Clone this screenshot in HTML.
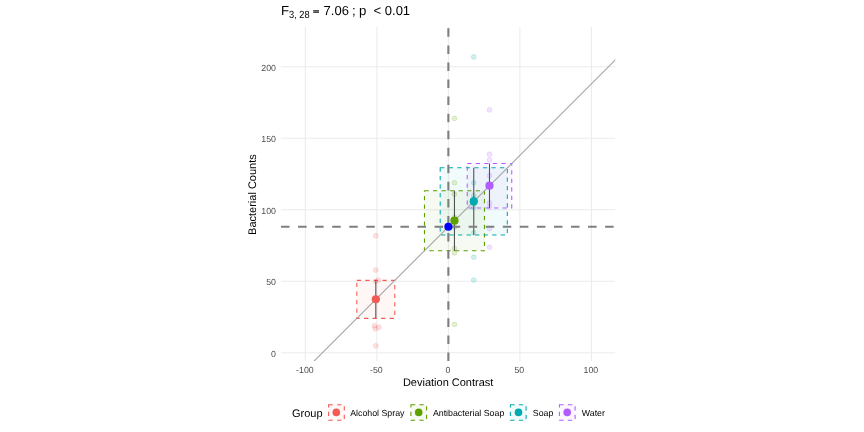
<!DOCTYPE html><html><head><meta charset="utf-8"><style>html,body{margin:0;padding:0;background:#fff;}svg{display:block;will-change:transform;}text{font-family:"Liberation Sans",sans-serif;text-rendering:geometricPrecision;}</style></head><body>
<svg width="864" height="432" viewBox="0 0 864 432">
<rect x="0" y="0" width="864" height="432" fill="#fff"/>
<defs><clipPath id="pc"><rect x="281.00" y="27.00" width="334.30" height="334.00"/></clipPath></defs>
<g stroke="#EBEBEB" stroke-width="1.07"><line x1="305.38" y1="27.00" x2="305.38" y2="361.00"/><line x1="376.88" y1="27.00" x2="376.88" y2="361.00"/><line x1="448.38" y1="27.00" x2="448.38" y2="361.00"/><line x1="519.88" y1="27.00" x2="519.88" y2="361.00"/><line x1="591.38" y1="27.00" x2="591.38" y2="361.00"/><line x1="281.00" y1="352.74" x2="615.30" y2="352.74"/><line x1="281.00" y1="281.24" x2="615.30" y2="281.24"/><line x1="281.00" y1="209.74" x2="615.30" y2="209.74"/><line x1="281.00" y1="138.24" x2="615.30" y2="138.24"/><line x1="281.00" y1="66.74" x2="615.30" y2="66.74"/></g>
<g clip-path="url(#pc)">
<rect x="356.82" y="280.37" width="37.98" height="37.98" fill="#F15A55" fill-opacity="0.05" stroke="#F15A55" stroke-width="1.07" stroke-dasharray="4.27 4.27"/>
<rect x="424.45" y="190.71" width="60.01" height="60.01" fill="#5EA000" fill-opacity="0.05" stroke="#5EA000" stroke-width="1.07" stroke-dasharray="4.27 4.27"/>
<rect x="440.19" y="167.83" width="67.15" height="67.15" fill="#00AAB0" fill-opacity="0.05" stroke="#00AAB0" stroke-width="1.07" stroke-dasharray="4.27 4.27"/>
<rect x="467.23" y="163.42" width="44.52" height="44.52" fill="#B05CFF" fill-opacity="0.05" stroke="#B05CFF" stroke-width="1.07" stroke-dasharray="4.27 4.27"/>
<circle cx="378.41" cy="280.06" r="2.4" fill="#F15A55" fill-opacity="0.17" stroke="#F15A55" stroke-opacity="0.2" stroke-width="0.9"/>
<circle cx="375.81" cy="345.84" r="2.4" fill="#F15A55" fill-opacity="0.17" stroke="#F15A55" stroke-opacity="0.2" stroke-width="0.9"/>
<circle cx="374.41" cy="325.82" r="2.4" fill="#F15A55" fill-opacity="0.17" stroke="#F15A55" stroke-opacity="0.2" stroke-width="0.9"/>
<circle cx="378.81" cy="327.25" r="2.4" fill="#F15A55" fill-opacity="0.17" stroke="#F15A55" stroke-opacity="0.2" stroke-width="0.9"/>
<circle cx="375.81" cy="270.05" r="2.4" fill="#F15A55" fill-opacity="0.17" stroke="#F15A55" stroke-opacity="0.2" stroke-width="0.9"/>
<circle cx="375.61" cy="281.49" r="2.4" fill="#F15A55" fill-opacity="0.17" stroke="#F15A55" stroke-opacity="0.2" stroke-width="0.9"/>
<circle cx="375.81" cy="235.73" r="2.4" fill="#F15A55" fill-opacity="0.17" stroke="#F15A55" stroke-opacity="0.2" stroke-width="0.9"/>
<circle cx="375.31" cy="328.68" r="2.4" fill="#F15A55" fill-opacity="0.17" stroke="#F15A55" stroke-opacity="0.2" stroke-width="0.9"/>
<circle cx="454.46" cy="252.89" r="2.4" fill="#5EA000" fill-opacity="0.17" stroke="#5EA000" stroke-opacity="0.2" stroke-width="0.9"/>
<circle cx="454.46" cy="118.47" r="2.4" fill="#5EA000" fill-opacity="0.17" stroke="#5EA000" stroke-opacity="0.2" stroke-width="0.9"/>
<circle cx="454.46" cy="227.15" r="2.4" fill="#5EA000" fill-opacity="0.17" stroke="#5EA000" stroke-opacity="0.2" stroke-width="0.9"/>
<circle cx="454.46" cy="194.26" r="2.4" fill="#5EA000" fill-opacity="0.17" stroke="#5EA000" stroke-opacity="0.2" stroke-width="0.9"/>
<circle cx="454.46" cy="248.60" r="2.4" fill="#5EA000" fill-opacity="0.17" stroke="#5EA000" stroke-opacity="0.2" stroke-width="0.9"/>
<circle cx="454.46" cy="182.82" r="2.4" fill="#5EA000" fill-opacity="0.17" stroke="#5EA000" stroke-opacity="0.2" stroke-width="0.9"/>
<circle cx="454.46" cy="324.39" r="2.4" fill="#5EA000" fill-opacity="0.17" stroke="#5EA000" stroke-opacity="0.2" stroke-width="0.9"/>
<circle cx="454.46" cy="217.14" r="2.4" fill="#5EA000" fill-opacity="0.17" stroke="#5EA000" stroke-opacity="0.2" stroke-width="0.9"/>
<circle cx="473.76" cy="232.87" r="2.4" fill="#00AAB0" fill-opacity="0.17" stroke="#00AAB0" stroke-opacity="0.2" stroke-width="0.9"/>
<circle cx="473.76" cy="280.06" r="2.4" fill="#00AAB0" fill-opacity="0.17" stroke="#00AAB0" stroke-opacity="0.2" stroke-width="0.9"/>
<circle cx="473.76" cy="195.69" r="2.4" fill="#00AAB0" fill-opacity="0.17" stroke="#00AAB0" stroke-opacity="0.2" stroke-width="0.9"/>
<circle cx="473.76" cy="257.18" r="2.4" fill="#00AAB0" fill-opacity="0.17" stroke="#00AAB0" stroke-opacity="0.2" stroke-width="0.9"/>
<circle cx="473.76" cy="182.82" r="2.4" fill="#00AAB0" fill-opacity="0.17" stroke="#00AAB0" stroke-opacity="0.2" stroke-width="0.9"/>
<circle cx="473.76" cy="198.55" r="2.4" fill="#00AAB0" fill-opacity="0.17" stroke="#00AAB0" stroke-opacity="0.2" stroke-width="0.9"/>
<circle cx="473.76" cy="56.98" r="2.4" fill="#00AAB0" fill-opacity="0.17" stroke="#00AAB0" stroke-opacity="0.2" stroke-width="0.9"/>
<circle cx="473.76" cy="207.13" r="2.4" fill="#00AAB0" fill-opacity="0.17" stroke="#00AAB0" stroke-opacity="0.2" stroke-width="0.9"/>
<circle cx="489.49" cy="247.17" r="2.4" fill="#B05CFF" fill-opacity="0.17" stroke="#B05CFF" stroke-opacity="0.2" stroke-width="0.9"/>
<circle cx="489.49" cy="159.94" r="2.4" fill="#B05CFF" fill-opacity="0.17" stroke="#B05CFF" stroke-opacity="0.2" stroke-width="0.9"/>
<circle cx="489.49" cy="207.13" r="2.4" fill="#B05CFF" fill-opacity="0.17" stroke="#B05CFF" stroke-opacity="0.2" stroke-width="0.9"/>
<circle cx="489.49" cy="175.67" r="2.4" fill="#B05CFF" fill-opacity="0.17" stroke="#B05CFF" stroke-opacity="0.2" stroke-width="0.9"/>
<circle cx="489.49" cy="202.84" r="2.4" fill="#B05CFF" fill-opacity="0.17" stroke="#B05CFF" stroke-opacity="0.2" stroke-width="0.9"/>
<circle cx="489.49" cy="154.22" r="2.4" fill="#B05CFF" fill-opacity="0.17" stroke="#B05CFF" stroke-opacity="0.2" stroke-width="0.9"/>
<circle cx="489.49" cy="109.89" r="2.4" fill="#B05CFF" fill-opacity="0.17" stroke="#B05CFF" stroke-opacity="0.2" stroke-width="0.9"/>
<circle cx="489.49" cy="228.58" r="2.4" fill="#B05CFF" fill-opacity="0.17" stroke="#B05CFF" stroke-opacity="0.2" stroke-width="0.9"/>
<line x1="375.81" y1="280.37" x2="375.81" y2="318.36" stroke="#505050" stroke-width="1.07"/>
<line x1="454.46" y1="190.71" x2="454.46" y2="250.72" stroke="#505050" stroke-width="1.07"/>
<line x1="473.76" y1="167.83" x2="473.76" y2="234.99" stroke="#505050" stroke-width="1.07"/>
<line x1="489.49" y1="163.42" x2="489.49" y2="207.94" stroke="#505050" stroke-width="1.07"/>
<line x1="262.48" y1="412.69" x2="634.28" y2="40.89" stroke="#A3A3A3" stroke-width="1.07"/>
<line x1="448.38" y1="361.00" x2="448.38" y2="27.00" stroke="#7F7F7F" stroke-width="2.13" stroke-dasharray="8.53 8.53"/>
<line x1="281.00" y1="226.79" x2="615.30" y2="226.79" stroke="#7F7F7F" stroke-width="2.13" stroke-dasharray="8.53 8.53"/>
<circle cx="375.81" cy="299.37" r="4.1" fill="#F15A55"/>
<circle cx="454.46" cy="220.72" r="4.1" fill="#5EA000"/>
<circle cx="473.76" cy="201.41" r="4.1" fill="#00AAB0"/>
<circle cx="489.49" cy="185.68" r="4.1" fill="#B05CFF"/>
<circle cx="448.38" cy="226.79" r="4.05" fill="#0000FF"/>
</g>
<text x="276" y="356.59" font-size="8.8" fill="#4D4D4D" text-anchor="end">0</text>
<text x="276" y="285.09" font-size="8.8" fill="#4D4D4D" text-anchor="end">50</text>
<text x="276" y="213.59" font-size="8.8" fill="#4D4D4D" text-anchor="end">100</text>
<text x="276" y="142.09" font-size="8.8" fill="#4D4D4D" text-anchor="end">150</text>
<text x="276" y="70.59" font-size="8.8" fill="#4D4D4D" text-anchor="end">200</text>
<text x="304.88" y="373" font-size="8.8" fill="#4D4D4D" text-anchor="middle">-100</text>
<text x="376.38" y="373" font-size="8.8" fill="#4D4D4D" text-anchor="middle">-50</text>
<text x="447.88" y="373" font-size="8.8" fill="#4D4D4D" text-anchor="middle">0</text>
<text x="519.38" y="373" font-size="8.8" fill="#4D4D4D" text-anchor="middle">50</text>
<text x="590.88" y="373" font-size="8.8" fill="#4D4D4D" text-anchor="middle">100</text>
<text x="448.15" y="386" font-size="11" fill="#000" text-anchor="middle">Deviation Contrast</text>
<text x="0" y="0" font-size="11" fill="#000" text-anchor="middle" transform="translate(256.4,194.6) rotate(-90)">Bacterial Counts</text>
<text x="281.00" y="15.00" font-size="13.20" fill="#000">F</text>
<text x="0" y="0" font-size="9.24" fill="#000" transform="translate(289.00,17.80) scale(1,1.12)">3, 28</text>
<text x="323.60" y="15.00" font-size="13.00" fill="#000">7.06</text>
<text x="351.90" y="15.00" font-size="13.20" fill="#000">;</text>
<text x="359.00" y="15.00" font-size="13.20" fill="#000">p</text>
<text x="373.50" y="15.00" font-size="13.20" fill="#000">&lt;</text>
<text x="384.80" y="15.00" font-size="13.00" fill="#000">0.01</text>
<rect x="313.3" y="10.2" width="5.7" height="2.7" fill="#7a7a7a"/>
<rect x="313.3" y="10.2" width="5.7" height="0.9" fill="#444"/><rect x="313.3" y="12.0" width="5.7" height="0.9" fill="#444"/>
<text x="292" y="416.8" font-size="11" fill="#000">Group</text>
<rect x="328.60" y="404.8" width="15.7" height="15.5" fill="#F15A55" fill-opacity="0.05" stroke="#F15A55" stroke-width="1.07" stroke-dasharray="4.27 4.27"/>
<circle cx="336.30" cy="412.4" r="3.8" fill="#F15A55"/>
<text x="350.20" y="415.5" font-size="8.8" fill="#000">Alcohol Spray</text>
<rect x="410.90" y="404.8" width="15.7" height="15.5" fill="#5EA000" fill-opacity="0.05" stroke="#5EA000" stroke-width="1.07" stroke-dasharray="4.27 4.27"/>
<circle cx="418.70" cy="412.4" r="3.8" fill="#5EA000"/>
<text x="432.90" y="415.5" font-size="8.8" fill="#000">Antibacterial Soap</text>
<rect x="510.40" y="404.8" width="15.7" height="15.5" fill="#00AAB0" fill-opacity="0.05" stroke="#00AAB0" stroke-width="1.07" stroke-dasharray="4.27 4.27"/>
<circle cx="518.50" cy="412.4" r="3.8" fill="#00AAB0"/>
<text x="532.80" y="415.5" font-size="8.8" fill="#000">Soap</text>
<rect x="559.40" y="404.8" width="15.7" height="15.5" fill="#B05CFF" fill-opacity="0.05" stroke="#B05CFF" stroke-width="1.07" stroke-dasharray="4.27 4.27"/>
<circle cx="567.20" cy="412.4" r="3.8" fill="#B05CFF"/>
<text x="581.80" y="415.5" font-size="8.8" fill="#000">Water</text>
</svg></body></html>
